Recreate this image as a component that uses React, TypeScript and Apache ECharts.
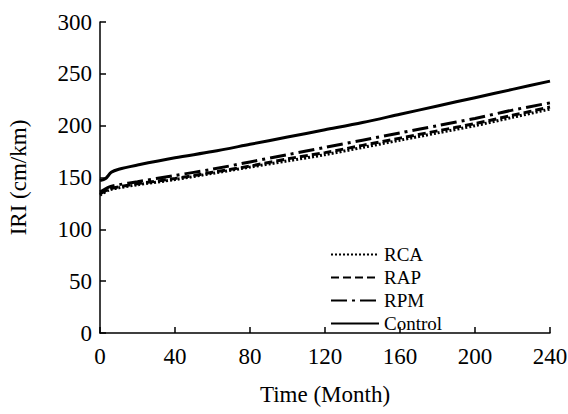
import React, { useEffect, useRef } from "react";
import * as echarts from "echarts";

const months = [0, 5, 10, 20, 40, 60, 80, 100, 120, 140, 160, 180, 200, 220, 240];
const rca = [133, 138, 140, 143, 148, 154, 160, 166, 172, 179, 186, 193, 200, 208, 216];
const rap = [134, 139, 141, 144, 149, 155, 161, 168, 174, 181, 188, 195, 202, 210, 218];
const rpm = [136, 141, 143, 146, 152, 158, 165, 172, 179, 186, 193, 200, 207, 215, 222];
const controlMonths = [0, 3, 6, 10, 20, 40, 60, 80, 100, 120, 140, 160, 180, 200, 220, 240];
const control = [147, 149, 155, 158, 162, 169, 175, 182, 189, 196, 203, 211, 219, 227, 235, 243];
const seriesNames = ["RCA", "RAP", "RPM", "Control"];

const FONT = "Liberation Serif";

export default function App() {
  const ref = useRef<HTMLDivElement>(null);
  useEffect(() => {
    if (!ref.current) return;
    const chart = echarts.init(ref.current, undefined, { renderer: "svg" });
    const pair = (xs: number[], ys: number[]) => xs.map((x, i) => [x, ys[i]]);
    const mk = (name: string, data: number[][], type: any) => ({
      name,
      type: "line",
      data,
      showSymbol: false,
      symbol: "none",
      smooth: 0.3,
      lineStyle: { color: "#000", width: 3, type, cap: "butt" },
      itemStyle: { color: "#000" },
    });
    chart.setOption({
      animation: false,
      backgroundColor: "#fff",
      grid: { left: 100, right: 18, top: 22, bottom: 81, outerBoundsMode: "none", containLabel: false },
      legend: {
        orient: "vertical",
        left: 325,
        top: 240,
        padding: 5,
        itemWidth: 48,
        itemHeight: 10,
        itemGap: 4,
        data: seriesNames,
        itemStyle: { opacity: 0 },
        textStyle: { fontFamily: FONT, fontSize: 19, lineHeight: 19, color: "#000" },
      },
      xAxis: {
        type: "value",
        min: 0,
        max: 240,
        interval: 40,
        name: "Time (Month)",
        nameLocation: "middle",
        nameGap: 50,
        nameTextStyle: { fontFamily: FONT, fontSize: 23, color: "#000" },
        axisLine: { lineStyle: { color: "#000", width: 1.5 } },
        axisTick: { inside: true, length: 6, lineStyle: { color: "#000", width: 1.5 } },
        axisLabel: { fontFamily: FONT, fontSize: 23, color: "#000", margin: 12 },
        splitLine: { show: false },
      },
      yAxis: {
        type: "value",
        min: 0,
        max: 300,
        interval: 50,
        name: "IRI (cm/km)",
        nameLocation: "middle",
        nameGap: 70,
        nameTextStyle: { fontFamily: FONT, fontSize: 23, color: "#000" },
        axisLine: { show: true, lineStyle: { color: "#000", width: 1.5 } },
        axisTick: { show: true, inside: true, length: 6, lineStyle: { color: "#000", width: 1.5 } },
        axisLabel: { fontFamily: FONT, fontSize: 23, color: "#000", margin: 8 },
        splitLine: { show: false },
      },
      series: [
        mk("RCA", pair(months, rca), [2, 2]),
        mk("RAP", pair(months, rap), [8, 4]),
        mk("RPM", pair(months, rpm), [16, 5, 3, 5]),
        mk("Control", pair(controlMonths, control), "solid"),
      ],
    });
    return () => chart.dispose();
  }, []);
  return <div ref={ref} style={{ width: 568, height: 414, position: "absolute", left: 0, top: 0 }} />;
}
